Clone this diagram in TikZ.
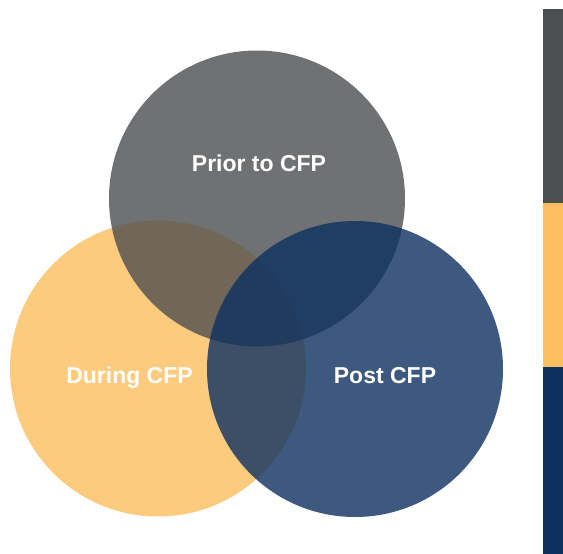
\documentclass[tikz,border=0pt]{standalone}
\usepackage{fontspec}
\setmainfont{Liberation Sans}
\begin{document}
\definecolor{cfpgray}{HTML}{4D4E50}
\definecolor{cfpyellow}{HTML}{FDBF5E}
\definecolor{cfpblue}{HTML}{0D3060}
\begin{tikzpicture}[x=1pt,y=-1pt,
  phase/.style={circle,minimum size=296pt,inner sep=0pt,fill opacity=0.8},
  label/.style={anchor=base,text=white,font=\fontsize{23}{26}\selectfont\bfseries},
  barpart/.style={draw=none}]
  \useasboundingbox (0,0) rectangle (563,554);
  \fill[white] (0,0) rectangle (563,554);
  % overlapping phase circles, drawn bottom to top
  \node[phase,fill=cfpyellow] (during) at (158,368.5) {};
  \node[phase,fill=cfpgray]   (prior)  at (257,198.5) {};
  \node[phase,fill=cfpblue]   (post)   at (355,369) {};
  % circle captions
  \node[label] (priorlabel)  at (259,171.5) {Prior to CFP};
  \node[label] (duringlabel) at (129.5,383) {During CFP};
  \node[label] (postlabel)   at (385,383) {Post CFP};
  % colour key bar on the right
  \fill[cfpgray]   (543,9) rectangle (563,203);
  \fill[cfpyellow] (543,203) rectangle (563,366.7);
  \fill[cfpblue]   (543,366.7) rectangle (563,554);
\end{tikzpicture}
\end{document}
